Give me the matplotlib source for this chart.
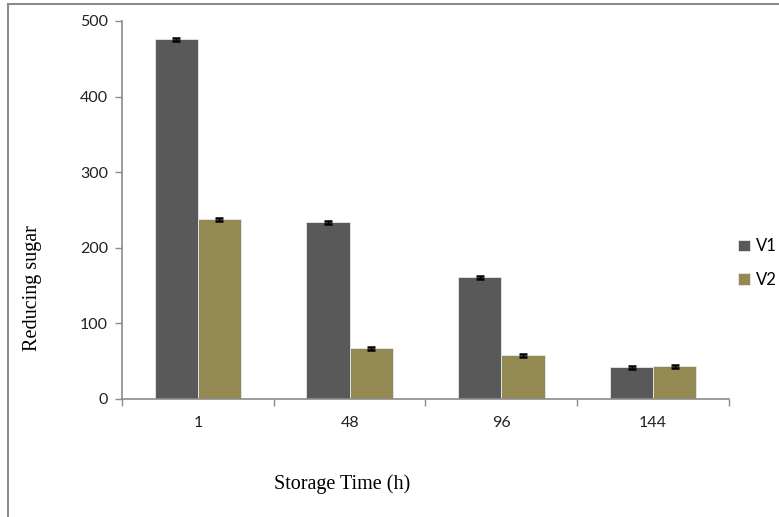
import matplotlib.pyplot as plt
import numpy as np
from matplotlib.patches import Rectangle

# storage times and reducing sugar values for two varieties
categories = ["1", "48", "96", "144"]
v1 = [476, 234, 161, 42]
v2 = [238, 67, 58, 43]
v1_err = [2, 2, 2, 2]
v2_err = [2, 2, 2, 2]
yticks = [0, 100, 200, 300, 400, 500]

W, H = 779, 517
fig = plt.figure(figsize=(W / 100, H / 100), dpi=100)

# outer frame like the spreadsheet chart area
fig.patches.append(Rectangle((8 / W, -0.1), 1.2, (H - 4) / H + 0.1,
                             transform=fig.transFigure, fill=False,
                             edgecolor="#8c8c8c", linewidth=1.5))

ax = fig.add_axes([122 / W, 1 - 399 / H, (729 - 122) / W, (399 - 21) / H])

x = np.arange(len(categories))
w = 0.285
ax.bar(x - w / 2, v1, w, color="#595959", edgecolor="#e8e8e8", linewidth=0.6,
       yerr=v1_err, error_kw=dict(ecolor="black", capsize=3, capthick=1.8, elinewidth=1),
       label="V1", zorder=2)
ax.bar(x + w / 2, v2, w, color="#938953", edgecolor="#e8e8e8", linewidth=0.6,
       yerr=v2_err, error_kw=dict(ecolor="black", capsize=3, capthick=1.8, elinewidth=1),
       label="V2", zorder=2)

ax.set_xlim(-0.5, len(categories) - 0.5)
ax.set_ylim(0, 500)
ax.set_yticks(yticks)
ax.set_xticks(x)
ax.set_xticklabels(categories)
ax.set_xticks(np.arange(len(categories) + 1) - 0.5, minor=True)

for s in ["top", "right"]:
    ax.spines[s].set_visible(False)
for s in ["left", "bottom"]:
    ax.spines[s].set_color("#8c8c8c")
    ax.spines[s].set_linewidth(1.2)

ax.tick_params(axis="x", which="major", length=0, pad=12, labelsize=11.5, labelcolor="#222222")
ax.tick_params(axis="x", which="minor", length=5, color="#8c8c8c", width=1)
ax.tick_params(axis="y", length=5, color="#8c8c8c", width=1, labelsize=11.5,
               labelcolor="#222222", pad=5)
for lab in ax.get_xticklabels() + ax.get_yticklabels():
    lab.set_fontfamily("Lato")

fig.text(342 / W, 1 - 484 / H, "Storage Time (h)", family="Liberation Serif",
         fontsize=14.5, ha="center", va="center")
fig.text(33 / W, 1 - 288 / H, "Reducing sugar", family="Liberation Serif",
         fontsize=14.5, ha="center", va="center", rotation=90)

leg = fig.legend(loc="center left", bbox_to_anchor=(738 / W, 1 - 263 / H),
                 frameon=False, handlelength=0.7, handleheight=0.7,
                 handletextpad=0.4, labelspacing=1.05, borderpad=0,
                 borderaxespad=0, prop={"family": "Lato", "size": 12})

fig.savefig("out.png", dpi=100)
